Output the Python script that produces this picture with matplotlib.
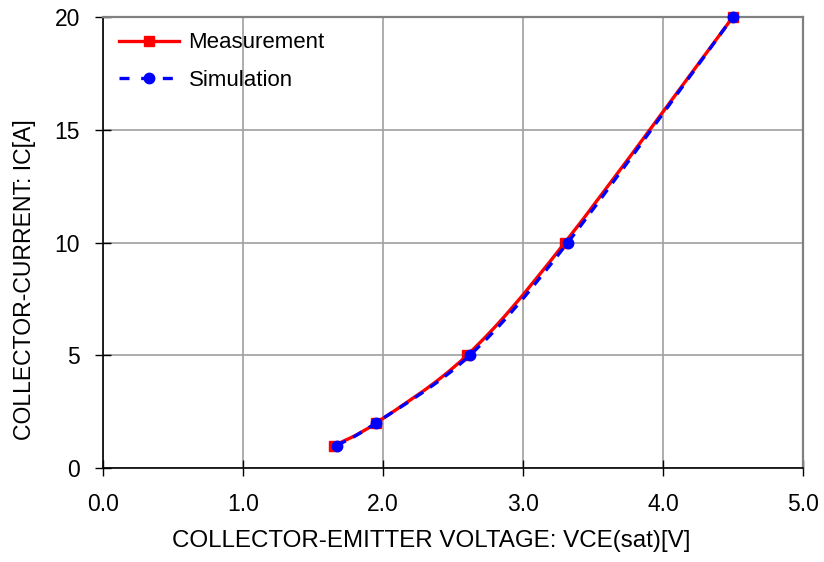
#IC-VCE(sat) characteristics: measurement vs simulation

import numpy
import matplotlib
matplotlib.use('Agg')
import matplotlib.pyplot as plt
from matplotlib.path import Path
from matplotlib.patches import PathPatch

plt.rcParams['font.family'] = ['Liberation Sans', 'DejaVu Sans']

#data
vce_meas = [1.65, 1.95, 2.60, 3.30, 4.50]
ic_meas = [1.0, 2.0, 5.0, 10.0, 20.0]
vce_sim = [1.67, 1.95, 2.62, 3.32, 4.50]
ic_sim = [1.0, 2.0, 5.0, 10.0, 20.0]

x_ticks = [0.0, 1.0, 2.0, 3.0, 4.0, 5.0]
y_ticks = [0, 5, 10, 15, 20]


def smooth_path(x, y):
    '''builds a spreadsheet-style smoothed line (Catmull-Rom bezier) through the points'''
    p = numpy.column_stack([x, y])
    n = len(p)
    verts = [p[0]]
    codes = [Path.MOVETO]
    for i in range(n - 1):
        p0 = p[i - 1] if i > 0 else p[i]
        p3 = p[i + 2] if i + 2 < n else p[i + 1]
        c1 = p[i] + (p[i + 1] - p0) / 6.
        c2 = p[i + 1] - (p3 - p[i]) / 6.
        verts += [c1, c2, p[i + 1]]
        codes += [Path.CURVE4] * 3
    return Path(verts, codes)


fig = plt.figure(figsize=(8.24, 5.62), dpi=100)
ax = fig.add_axes([0.125, 0.167, 0.8495, 0.803])

#measurement: red solid with squares
ax.add_patch(PathPatch(smooth_path(vce_meas, ic_meas), fill=False,
                       edgecolor='#ff0000', lw=2.4, zorder=3))
ax.plot(vce_meas, ic_meas, ls='none', marker='s', ms=7.2, color='#ff0000',
        zorder=4, clip_on=False)

#simulation: blue dashed with circles
ax.add_patch(PathPatch(smooth_path(vce_sim, ic_sim), fill=False,
                       edgecolor='#0000ff', lw=2.4, ls=(0, (3, 2.5)), zorder=5))
ax.plot(vce_sim, ic_sim, ls='none', marker='o', ms=7.5, color='#0000ff',
        zorder=6, clip_on=False)

#legend handles
h1, = ax.plot([], [], color='#ff0000', lw=2.4, marker='s', ms=7.2)
h2, = ax.plot([], [], color='#0000ff', lw=2.4, ls=(0, (3, 3.5)), marker='o', ms=7.5)
ax.legend([h1, h2], ['Measurement', 'Simulation'], loc='upper left', frameon=False,
          fontsize=16, handlelength=2.7, handletextpad=0.45, labelspacing=0.75,
          borderaxespad=0.3, bbox_to_anchor=(0.0, 1.0))

ax.set_xlim(0, 5)
ax.set_ylim(0, 20)
ax.set_xticks(x_ticks)
ax.set_xticklabels(['%.1f' % v for v in x_ticks])
ax.set_yticks(y_ticks)
ax.grid(True, color='#a0a0a0', lw=1.2)
ax.set_axisbelow(True)

for s in ['top', 'right']:
    ax.spines[s].set_color('#808080')
    ax.spines[s].set_linewidth(1.6)
for s in ['left', 'bottom']:
    ax.spines[s].set_color('black')
    ax.spines[s].set_linewidth(1.2)

ax.tick_params(direction='inout', length=11, width=1.0, labelsize=16.5)
ax.tick_params(axis='y', pad=11)
ax.tick_params(axis='x', pad=12.5)
ax.set_xlabel('COLLECTOR-EMITTER VOLTAGE: VCE(sat)[V]', fontsize=17.4)
ax.set_ylabel('COLLECTOR-CURRENT: IC[A]', fontsize=16.6)
ax.xaxis.set_label_coords(0.4686, -0.137)
ax.yaxis.set_label_coords(-0.0957, 0.417)

fig.savefig('out.png', dpi=100)
